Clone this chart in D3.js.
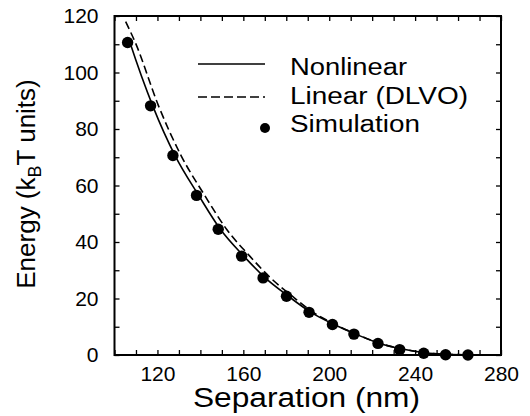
<!DOCTYPE html>
<html>
<head>
<meta charset="utf-8">
<script src="https://cdn.jsdelivr.net/npm/d3@7/dist/d3.min.js"></script>
<style>
  html, body { margin: 0; padding: 0; background: #fff; }
  svg { display: block; font-family: "Liberation Sans", Arial, sans-serif; }
</style>
</head>
<body>
<svg id="chart" width="530" height="416"></svg>
<script>
// ---- data ----
const simSeparation = [106.1, 116.8, 127.2, 138.2, 148.3, 159.2, 169.2, 180.1, 190.6, 201.5, 211.5, 222.7, 232.8, 244.0, 254.2, 264.6];
const simEnergy     = [110.6, 88.2, 70.6, 56.5, 44.5, 35.0, 27.3, 20.8, 15.1, 10.8, 7.4, 4.1, 1.9, 0.6, 0.1, 0.0];

const nonlinSeparation = [106.6, 107.2, 117.8, 128.2, 139.2, 149.3, 160.2, 170.2, 181.0, 191.5, 202.3, 212.3, 223.5, 233.5, 244.5, 255.0, 265.0];
const nonlinEnergy     = [112.0, 110.6, 88.2, 70.6, 56.5, 44.5, 35.0, 27.3, 20.8, 15.1, 10.8, 7.4, 4.1, 2.2, 0.8, 0.25, 0.05];

const linSeparation = [105.2, 109.7, 120.5, 131.0, 142.0, 152.2, 163.0, 172.7, 182.8, 192.5, 202.8, 212.6, 223.7, 233.7, 244.6, 255.0, 265.0];
const linEnergy     = [118.0, 110.6, 88.2, 70.6, 56.5, 44.5, 35.0, 27.3, 20.8, 15.1, 10.8, 7.4, 4.1, 2.2, 0.8, 0.25, 0.05];

const xTickLabels = [120, 160, 200, 240, 280];
const yTickLabels = [0, 20, 40, 60, 80, 100, 120];
const legendLabels = ["Nonlinear", "Linear (DLVO)", "Simulation"];

// ---- layout ----
const svg = d3.select("#chart");
const L = 114.5, R = 501, T = 16, B = 355;
const x = d3.scaleLinear().domain([100, 280]).range([L, R]);
const y = d3.scaleLinear().domain([0, 120]).range([B, T]);

const xMinor = d3.range(100, 281, 10);
const yMinor = d3.range(0, 121, 10);

// axes
function styleAxis(g) {
  g.select(".domain").remove();
  g.selectAll(".tick line").attr("stroke", "#000").attr("stroke-width", 1.3);
  g.selectAll(".tick text").attr("font-size", 21).attr("fill", "#000")
    .attr("font-family", "'Liberation Sans', Arial, sans-serif");
}
const fmtX = d => xTickLabels.includes(d) ? String(d) : "";
const fmtY = d => yTickLabels.includes(d) ? String(d) : "";

svg.append("g").attr("transform", `translate(0,${B})`)
  .call(d3.axisBottom(x).tickValues(xMinor).tickSize(-5).tickPadding(11).tickFormat(fmtX))
  .call(styleAxis);
svg.append("g").attr("transform", `translate(0,${T})`)
  .call(d3.axisTop(x).tickValues(xMinor).tickSize(-5).tickFormat(""))
  .call(styleAxis);
svg.append("g").attr("transform", `translate(${L},0)`)
  .call(d3.axisLeft(y).tickValues(yMinor).tickSize(-5).tickPadding(16).tickFormat(fmtY))
  .call(styleAxis);
svg.append("g").attr("transform", `translate(${R},0)`)
  .call(d3.axisRight(y).tickValues(yMinor).tickSize(-5).tickFormat(""))
  .call(styleAxis);

// frame
svg.append("rect").attr("x", L).attr("y", T).attr("width", R - L).attr("height", B - T)
  .attr("fill", "none").attr("stroke", "#000").attr("stroke-width", 2);

// curves
const line = d3.line().x(d => x(d[0])).y(d => y(d[1])).curve(d3.curveMonotoneX);
const nonlin = nonlinSeparation.map((s, i) => [s, nonlinEnergy[i]]);
const lin = linSeparation.map((s, i) => [s, linEnergy[i]]);

svg.append("path").datum(lin).attr("d", line)
  .attr("fill", "none").attr("stroke", "#000").attr("stroke-width", 1.6)
  .attr("stroke-dasharray", "8,4");
svg.append("path").datum(nonlin).attr("d", line)
  .attr("fill", "none").attr("stroke", "#000").attr("stroke-width", 1.6);

// simulation points
svg.append("g").selectAll("circle")
  .data(simSeparation.map((s, i) => [s, simEnergy[i]]))
  .join("circle")
  .attr("cx", d => x(d[0])).attr("cy", d => y(d[1])).attr("r", 5.7)
  .attr("fill", "#000");

// legend
const lg = svg.append("g");
lg.append("line").attr("x1", 198).attr("x2", 265).attr("y1", 64).attr("y2", 64)
  .attr("stroke", "#000").attr("stroke-width", 1.4);
lg.append("line").attr("x1", 198).attr("x2", 265).attr("y1", 97).attr("y2", 97)
  .attr("stroke", "#000").attr("stroke-width", 1.4).attr("stroke-dasharray", "9,4");
lg.append("circle").attr("cx", 265).attr("cy", 128).attr("r", 5).attr("fill", "#000");
const legendBase = [75, 104, 132];
const legendLen = [117, 178, 130];
legendLabels.forEach((t, i) => {
  lg.append("text").attr("x", 290).attr("y", legendBase[i])
    .attr("font-size", 23).attr("fill", "#000")
    .attr("textLength", legendLen[i]).attr("lengthAdjust", "spacingAndGlyphs")
    .text(t);
});

// axis titles
svg.append("text").attr("x", (193 + 420) / 2).attr("y", 407)
  .attr("text-anchor", "middle").attr("font-size", 27)
  .attr("textLength", 227).attr("lengthAdjust", "spacingAndGlyphs")
  .text("Separation (nm)");

const yt = svg.append("text").attr("transform", "translate(35,184) rotate(-90)")
  .attr("text-anchor", "middle").attr("font-size", 26);
yt.append("tspan").text("Energy (k");
yt.append("tspan").attr("font-size", 18).attr("dy", 6).text("B");
yt.append("tspan").attr("dy", -6).text("T units)");
</script>
</body>
</html>
